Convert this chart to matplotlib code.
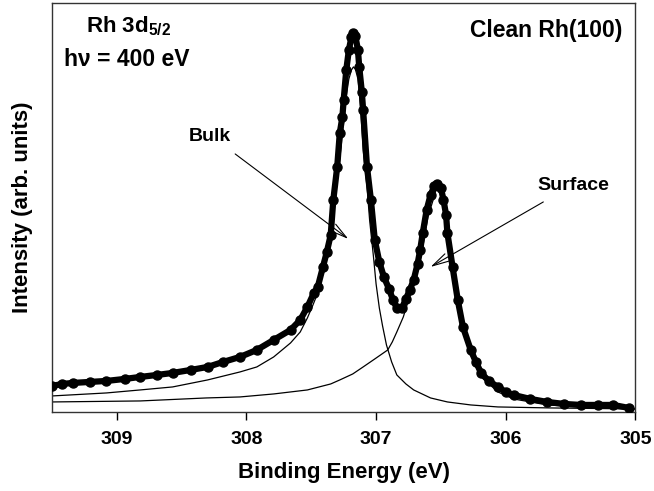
import matplotlib.pyplot as plt

plt.rcParams['font.family'] = ['Liberation Sans', 'DejaVu Sans']
plt.rcParams['mathtext.fontset'] = 'custom'
plt.rcParams['mathtext.rm'] = 'Liberation Sans'
plt.rcParams['mathtext.bf'] = 'Liberation Sans:bold'

# measured Rh 3d5/2 spectrum (binding energy in eV, intensity in arb. units)
energy = [309.50, 309.42, 309.34, 309.21, 309.08, 308.94, 308.82, 308.69, 308.57,
          308.43, 308.30, 308.18, 308.05, 307.92, 307.79, 307.66, 307.585, 307.53,
          307.48, 307.45, 307.41, 307.38, 307.35, 307.33, 307.30, 307.28, 307.26,
          307.25, 307.23, 307.21, 307.19, 307.175, 307.16, 307.14, 307.13, 307.11,
          307.10, 307.07, 307.04, 307.01, 306.975, 306.94, 306.90, 306.87, 306.84,
          306.80, 306.77, 306.74, 306.71, 306.68, 306.66, 306.64, 306.61, 306.58,
          306.55, 306.53, 306.50, 306.48, 306.46, 306.45, 306.41, 306.37, 306.33,
          306.27, 306.23, 306.19, 306.13, 306.06, 306.00, 305.94, 305.81, 305.68,
          305.55, 305.42, 305.29, 305.17, 305.05]
intensity = [26, 28, 29, 30, 31, 33, 35, 37, 39,
             42, 45, 50, 55, 62, 72, 82, 92, 105,
             119, 125, 145, 160, 177, 212, 245, 279, 295,
             312, 342, 362, 375, 379, 376, 362, 345, 320,
             302, 245, 212, 172, 150, 135, 123, 112, 104,
             104, 113, 122, 132, 148, 162, 179, 202, 217,
             226, 228, 224, 212, 197, 179, 145, 112, 85,
             62, 50, 39, 31, 25, 20, 17, 13, 10,
             8, 7, 7, 7, 4]

# fitted bulk component
bulk_e = [309.50, 309.08, 308.82, 308.57, 308.30, 308.05, 307.92, 307.79, 307.66,
          307.585, 307.53, 307.49, 307.45, 307.41, 307.38, 307.35, 307.33, 307.31,
          307.27, 307.25, 307.23, 307.21, 307.19, 307.175, 307.16, 307.14, 307.12,
          307.10, 307.07, 307.05, 307.02, 307.00, 306.975, 306.95, 306.92, 306.88,
          306.84, 306.77, 306.71, 306.58, 306.45, 306.27, 306.06, 305.65, 305.00]
bulk_i = [16, 19, 22, 25, 32, 40, 45, 55, 69,
          80, 94, 106, 119, 139, 155, 172, 195, 220,
          265, 292, 316, 333, 342, 345, 343, 333, 305,
          262, 225, 192, 155, 128, 104, 86, 67, 50,
          37, 28, 22, 14, 10, 7, 5, 4, 3]

# fitted surface component
surf_e = [309.50, 308.82, 308.31, 308.05, 307.79, 307.53, 307.35, 307.28, 307.18,
          307.10, 307.01, 306.91, 306.875, 306.84, 306.79, 306.74, 306.70, 306.67,
          306.64, 306.62, 306.60, 306.56, 306.54, 306.52, 306.50, 306.48, 306.46,
          306.44, 306.41, 306.37, 306.33, 306.27, 306.19, 306.06, 305.94, 305.68,
          305.42, 305.00]
surf_i = [10, 11, 14, 15, 18, 22, 28, 32, 38,
          45, 53, 62, 70, 80, 95, 116, 135, 152,
          165, 180, 195, 212, 221, 225, 222, 215, 197,
          172, 145, 112, 80, 57, 35, 20, 13, 7,
          5, 3]

fig = plt.figure(figsize=(6.54, 4.91), dpi=100)
ax = fig.add_axes([0.0795, 0.161, 0.892, 0.833])

ax.plot(bulk_e, bulk_i, color='black', lw=0.9)
ax.plot(surf_e, surf_i, color='black', lw=0.9)
ax.plot(energy, intensity, color='black', lw=4.5, solid_capstyle='round',
        marker='o', ms=6.5, zorder=3)

ax.set_xlim(309.5, 305)
ax.set_ylim(0, 409)
ax.set_xticks([309, 308, 307, 306, 305])
ax.set_yticks([])
ax.tick_params(axis='x', direction='out', length=6, width=1, labelsize=14, pad=8)
for lbl in ax.get_xticklabels():
    lbl.set_fontweight('bold')
for s in ax.spines.values():
    s.set_linewidth(1)
    s.set_color('#333333')

ax.set_xlabel('Binding Energy (eV)', fontsize=16, fontweight='bold', labelpad=10)
ax.set_ylabel('Intensity (arb. units)', fontsize=16, fontweight='bold', labelpad=14)

ax.text(0.058, 0.929, r'Rh 3d$_{\mathbf{5/2}}$', transform=ax.transAxes,
        fontsize=16, fontweight='bold', va='baseline')
ax.text(0.021, 0.846, 'h\u03bd = 400 eV', transform=ax.transAxes,
        fontsize=16.5, fontweight='bold', va='baseline')
ax.text(0.978, 0.917, 'Clean Rh(100)', transform=ax.transAxes,
        fontsize=16.5, fontweight='bold', va='baseline', ha='right')

ax.text(308.28, 275, 'Bulk', fontsize=14, fontweight='bold', ha='center', va='center')
ax.text(305.48, 226, 'Surface', fontsize=14, fontweight='bold', ha='center', va='center')

arrow = dict(arrowstyle='->,head_length=1.2,head_width=0.3', lw=0.8, color='black',
             shrinkA=0, shrinkB=0)
ax.annotate('', xy=(307.214, 173), xytext=(308.087, 258), arrowprops=arrow)
ax.annotate('', xy=(306.58, 145), xytext=(305.71, 210), arrowprops=arrow)

fig.savefig('out.png', dpi=100)
